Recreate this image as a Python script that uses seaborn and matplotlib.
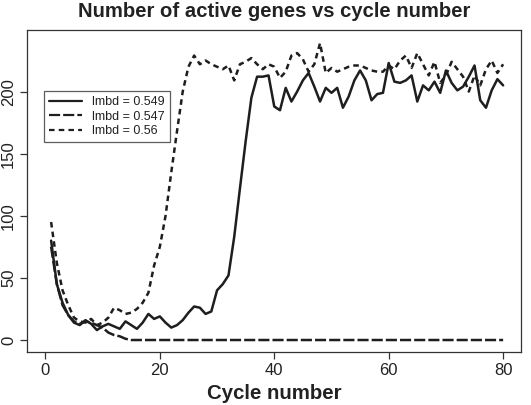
import numpy as np
import pandas as pd
import matplotlib
matplotlib.use("Agg")
import matplotlib.pyplot as plt
import seaborn as sns

cycles = list(range(1, 81))

lmbd_0549 = [80, 45, 30, 20, 14, 12, 16, 13, 8, 11,
             13, 11, 9, 15, 12, 9, 14, 21, 17, 19,
             14, 10, 12, 16, 22, 27, 26, 21, 23, 40,
             45, 52, 83, 122, 160, 195, 212, 212, 213, 188,
             185, 203, 192, 200, 209, 215, 204, 192, 203, 199,
             203, 187, 196, 209, 217, 209, 193, 198, 199, 223,
             208, 207, 209, 213, 192, 205, 201, 208, 199, 217,
             207, 201, 204, 212, 221, 193, 187, 201, 210, 205]

lmbd_0547 = [75, 45, 28, 20, 15, 13, 15, 14, 12, 10,
             6, 4, 3, 1, 0, 0, 0, 0, 0, 0,
             0, 0, 0, 0, 0, 0, 0, 0, 0, 0,
             0, 0, 0, 0, 0, 0, 0, 0, 0, 0,
             0, 0, 0, 0, 0, 0, 0, 0, 0, 0,
             0, 0, 0, 0, 0, 0, 0, 0, 0, 0,
             0, 0, 0, 0, 0, 0, 0, 0, 0, 0,
             0, 0, 0, 0, 0, 0, 0, 0, 0, 0]

lmbd_056 = [95, 62, 40, 28, 18, 15, 14, 17, 12, 14,
            18, 26, 24, 21, 22, 25, 30, 38, 60, 75,
            100, 135, 168, 200, 220, 229, 222, 225, 222, 220,
            218, 221, 209, 222, 224, 227, 222, 218, 222, 220,
            211, 216, 229, 231, 226, 216, 222, 239, 215, 219,
            216, 218, 220, 221, 221, 219, 217, 216, 216, 221,
            218, 225, 229, 219, 231, 222, 213, 224, 207, 213,
            224, 218, 212, 200, 213, 205, 218, 225, 215, 222]

labels = ["lmbd = 0.549", "lmbd = 0.547", "lmbd = 0.56"]
x_ticks = [0, 20, 40, 60, 80]
y_ticks = [0, 50, 100, 150, 200]

df = pd.DataFrame({
    "cycle": cycles * 3,
    "genes": lmbd_0549 + lmbd_0547 + lmbd_056,
    "series": [labels[0]] * 80 + [labels[1]] * 80 + [labels[2]] * 80,
})

sns.set_theme(style="white")
plt.rcParams["font.family"] = ["Liberation Sans", "DejaVu Sans"]
plt.rcParams["lines.scale_dashes"] = False

fig = plt.figure(figsize=(5.31, 4.05), dpi=100)
ax = fig.add_axes([0.051, 0.131, 0.931, 0.795])

col = "#1e1e1e"
sns.lineplot(data=df, x="cycle", y="genes", hue="series", style="series",
             hue_order=labels, style_order=labels,
             palette=[col, col, col],
             dashes={labels[0]: "", labels[1]: (8, 2.2), labels[2]: (4, 3)},
             linewidth=1.8, ax=ax, legend=True)

ax.set_xlim(-3.2, 83.2)
ax.set_ylim(-9.6, 249.6)
ax.set_xticks(x_ticks)
ax.set_yticks(y_ticks)
ax.set_xticklabels([str(v) for v in x_ticks], fontsize=12, color="#222222")
ax.set_yticklabels([str(v) for v in y_ticks], fontsize=12, color="#222222",
                   rotation=90, va="center")
ax.tick_params(direction="out", length=5, width=0.9, color="#333333", pad=3,
               bottom=True, left=True)
for s in ax.spines.values():
    s.set_color("#333333")
    s.set_linewidth(0.9)

ax.set_title("Number of active genes vs cycle number", fontsize=14.6,
             fontweight="bold", color="#222222", pad=9)
ax.set_xlabel("Cycle number", fontsize=14.7, fontweight="bold", color="#222222",
              labelpad=4)
ax.set_ylabel("")

leg = ax.legend(loc="upper left", bbox_to_anchor=(0.035, 0.81), fontsize=9,
                frameon=True, fancybox=False, edgecolor="#333333",
                handlelength=2.6, borderpad=0.4, labelspacing=0.2,
                handletextpad=0.8, borderaxespad=0)
leg.get_frame().set_linewidth(0.9)
for line in leg.get_lines():
    line.set_linewidth(1.6)
for t in leg.get_texts():
    t.set_color("#222222")

fig.savefig("out.png", dpi=100, facecolor="white")
